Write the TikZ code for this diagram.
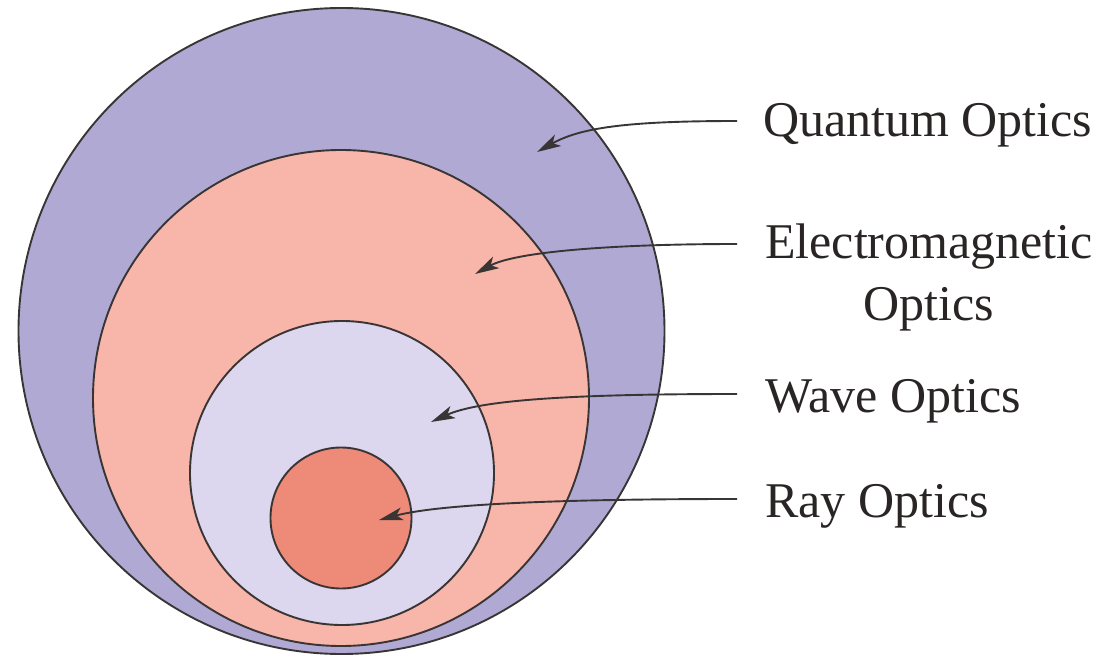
\documentclass[tikz,border=0pt]{standalone}
\usepackage{fontspec}
\setmainfont{Liberation Serif}
\usetikzlibrary{arrows.meta}
\definecolor{qcol}{HTML}{B0A9D4}
\definecolor{ecol}{HTML}{F8B5A9}
\definecolor{wcol}{HTML}{DCD6EE}
\definecolor{rcol}{HTML}{EE8A78}
\definecolor{ink}{HTML}{3A3535}
\definecolor{txt}{HTML}{2A2525}
\begin{document}
\begin{tikzpicture}[x=1pt,y=-1pt,
  ring/.style={circle,draw=ink,line width=1.9pt,inner sep=0pt},
  lbl/.style={font=\fontsize{50}{62}\selectfont,text=txt,inner sep=0pt},
  pointer/.style={draw=ink,line width=1.9pt,-{Stealth[length=24pt,width=13pt,inset=6pt]}}]
\useasboundingbox (0,0) rectangle (1104,658);
\fill[white] (0,0) rectangle (1104,658);
% circles
\node[ring,fill=qcol,minimum size=646pt] (quantum) at (341.5,331) {};
\node[ring,fill=ecol,minimum size=496pt] (em) at (341,398) {};
\node[ring,fill=wcol,minimum size=304pt] (wave) at (342,473) {};
\node[ring,fill=rcol,minimum size=141pt] (ray) at (341,518) {};
% labels
\node[lbl,anchor=base west] (qlab) at (763,137) {Quantum Optics};
\node[lbl,anchor=north,align=center] (elab) at (929,224) {Electromagnetic\\Optics};
\node[lbl,anchor=base west] (wlab) at (765,412) {Wave Optics};
\node[lbl,anchor=base west] (rlab) at (765,517) {Ray Optics};
% connector ends
\coordinate (qs) at (737,121);
\coordinate (qt) at (537,152);
\coordinate (es) at (737,244);
\coordinate (et) at (475,274);
\coordinate (ws) at (737,394);
\coordinate (wt) at (431,422);
\coordinate (rs) at (737,499);
\coordinate (rt) at (379,520);
% connectors
\draw[pointer] (qs) .. controls (625,121) and (580,128) .. (qt);
\draw[pointer] (es) .. controls (610,244) and (515,252) .. (et);
\draw[pointer] (ws) .. controls (570,394) and (480,400) .. (wt);
\draw[pointer] (rs) .. controls (560,499) and (440,504) .. (rt);
\end{tikzpicture}
\end{document}
